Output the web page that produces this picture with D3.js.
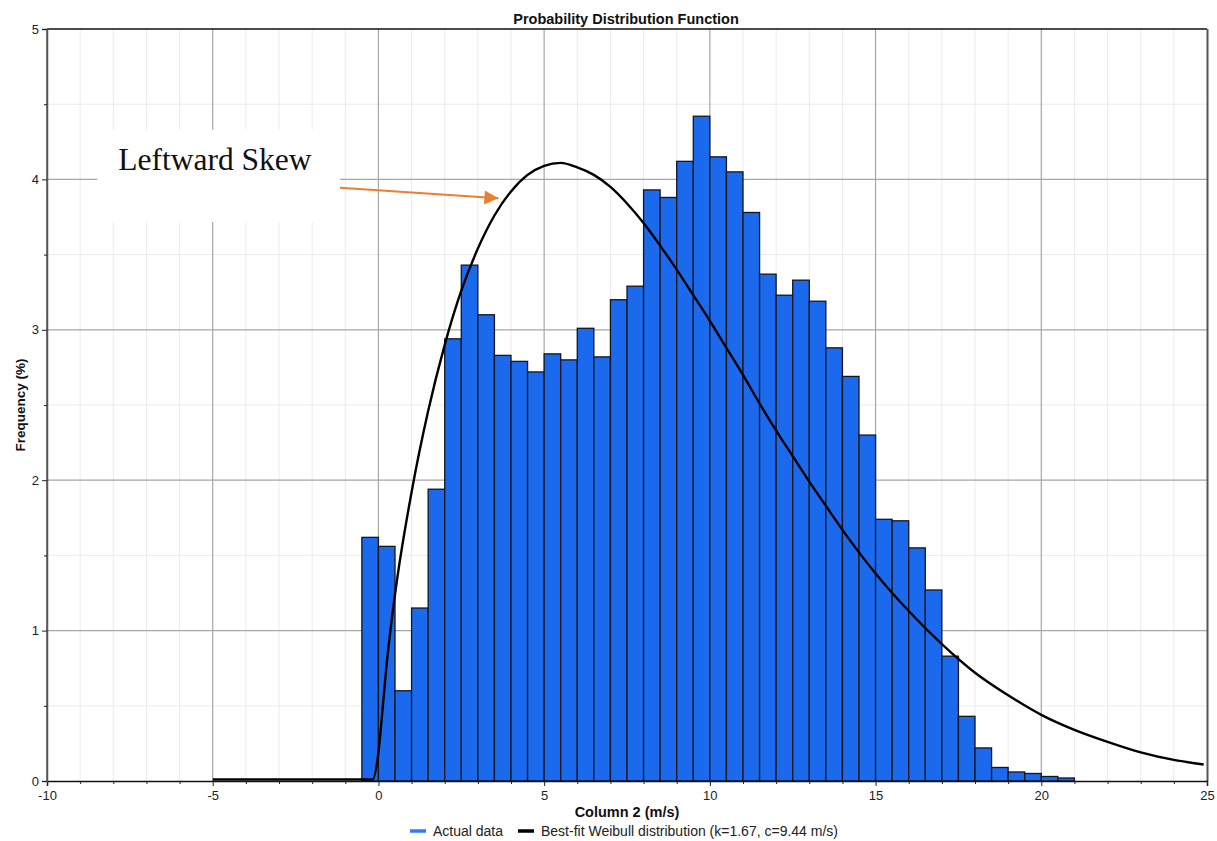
<!DOCTYPE html>
<html>
<head>
<meta charset="utf-8">
<script src="https://cdn.jsdelivr.net/npm/d3@7"></script>
<style>
  html, body { margin: 0; padding: 0; background: #fff; }
  svg { display: block; font-family: "Liberation Sans", Arial, sans-serif; }
</style>
</head>
<body>
<svg id="chart" width="1217" height="841"></svg>
<script>
// Histogram bins (left edge, m/s) and observed frequency (%) per 0.5 m/s bin
const binStarts = [-0.5, 0, 0.5, 1, 1.5, 2, 2.5, 3, 3.5, 4, 4.5, 5, 5.5, 6, 6.5, 7, 7.5, 8, 8.5, 9,
  9.5, 10, 10.5, 11, 11.5, 12, 12.5, 13, 13.5, 14, 14.5, 15, 15.5, 16, 16.5, 17, 17.5, 18, 18.5, 19,
  19.5, 20, 20.5];
const binWidth = 0.5;
const actualFreq = [1.62, 1.56, 0.60, 1.15, 1.94, 2.94, 3.43, 3.10, 2.83, 2.79, 2.72, 2.84, 2.80, 3.01, 2.82,
  3.20, 3.29, 3.93, 3.88, 4.12, 4.42, 4.15, 4.05, 3.78, 3.37, 3.23, 3.33, 3.19, 2.88, 2.69,
  2.30, 1.74, 1.73, 1.55, 1.27, 0.83, 0.43, 0.22, 0.09, 0.06, 0.05, 0.03, 0.02];

// Best-fit Weibull curve, sampled points (speed m/s, frequency %)
const fitSpeed = [-5, -0.17, 0, 0.15, 0.25, 0.5, 1, 1.5, 2, 2.5, 3, 3.5, 4, 4.5, 5, 5.5, 6, 6.5, 7, 7.5,
  8, 8.5, 9, 9.5, 10, 10.5, 11, 11.5, 12, 12.5, 13, 13.5, 14, 14.5, 15, 16, 17, 18, 19, 20,
  21, 22, 23, 24, 24.9];
const fitFreq = [0.01, 0.01, 0.19, 0.54, 0.78, 1.24, 1.92, 2.46, 2.90, 3.26, 3.54, 3.76, 3.92, 4.03, 4.09, 4.11, 4.08, 4.03, 3.95, 3.84,
  3.71, 3.56, 3.40, 3.23, 3.06, 2.88, 2.70, 2.51, 2.33, 2.16, 1.99, 1.83, 1.67, 1.52, 1.38, 1.13, 0.91, 0.72, 0.57, 0.44,
  0.34, 0.26, 0.19, 0.14, 0.11];

const xMajorTicks = [-10, -5, 0, 5, 10, 15, 20, 25];
const yMajorTicks = [0, 1, 2, 3, 4, 5];

const titleText = "Probability Distribution Function";
const xLabel = "Column 2 (m/s)";
const yLabel = "Frequency (%)";
const legendLabels = ["Actual data", "Best-fit Weibull distribution (k=1.67, c=9.44 m/s)"];
const noteText = "Leftward Skew";

const svg = d3.select("#chart");
const margin = { left: 47, top: 29, right: 1207, bottom: 781 };

const x = d3.scaleLinear().domain([-10, 25]).range([margin.left, margin.right]);
const y = d3.scaleLinear().domain([0, 5]).range([margin.bottom, margin.top]);

const barFill = "#1b6aee";
const orange = "#ed7d31";

// Gridlines: minor first, then major
const grid = svg.append("g");
grid.selectAll("line.xminor").data(d3.range(-10, 25.001, 1).filter(v => v % 5 !== 0))
  .join("line")
  .attr("x1", d => x(d)).attr("x2", d => x(d))
  .attr("y1", y(5)).attr("y2", y(0))
  .attr("stroke", "#ebebeb").attr("stroke-width", 1);
grid.selectAll("line.yminor").data(d3.range(0.5, 5, 1))
  .join("line")
  .attr("x1", x(-10)).attr("x2", x(25))
  .attr("y1", d => y(d)).attr("y2", d => y(d))
  .attr("stroke", "#ebebeb").attr("stroke-width", 1);
grid.selectAll("line.xmajor").data(xMajorTicks.slice(1, -1))
  .join("line")
  .attr("x1", d => x(d)).attr("x2", d => x(d))
  .attr("y1", y(5)).attr("y2", y(0))
  .attr("stroke", "#a6a6a6").attr("stroke-width", 1.2);
grid.selectAll("line.ymajor").data(yMajorTicks.slice(1, -1))
  .join("line")
  .attr("x1", x(-10)).attr("x2", x(25))
  .attr("y1", d => y(d)).attr("y2", d => y(d))
  .attr("stroke", "#a6a6a6").attr("stroke-width", 1.2);

// White panel behind the annotation text
svg.append("rect")
  .attr("x", x(-8.48)).attr("y", y(4.33))
  .attr("width", x(-1.16) - x(-8.48)).attr("height", y(3.717) - y(4.33))
  .attr("fill", "#fff");

// Histogram bars
const bars = binStarts.map((s, i) => ({ s, v: actualFreq[i] }));
svg.append("g").selectAll("rect").data(bars).join("rect")
  .attr("x", d => x(d.s))
  .attr("y", d => y(d.v))
  .attr("width", d => x(d.s + binWidth) - x(d.s))
  .attr("height", d => y(0) - y(d.v))
  .attr("fill", barFill)
  .attr("stroke", "#14161c")
  .attr("stroke-width", 1.3);

// Weibull fit curve
const fitPts = fitSpeed.map((s, i) => [s, fitFreq[i]]);
svg.append("path")
  .datum(fitPts)
  .attr("d", d3.line().x(d => x(d[0])).y(d => y(d[1])).curve(d3.curveMonotoneX))
  .attr("fill", "none")
  .attr("stroke", "#000")
  .attr("stroke-width", 2.4)
  .attr("stroke-linejoin", "round");

// Frame
const frame = svg.append("g");
frame.append("line").attr("x1", x(-10)).attr("x2", x(25)).attr("y1", y(5)).attr("y2", y(5))
  .attr("stroke", "#111").attr("stroke-width", 1.5);
frame.append("line").attr("x1", x(-10)).attr("x2", x(-10)).attr("y1", y(5)).attr("y2", y(0))
  .attr("stroke", "#555").attr("stroke-width", 1.5);
frame.append("line").attr("x1", x(25) + 0.5).attr("x2", x(25) + 0.5).attr("y1", y(5)).attr("y2", y(0))
  .attr("stroke", "#555").attr("stroke-width", 2);

// X axis
const xAxis = svg.append("g").attr("transform", `translate(0,${y(0)})`)
  .call(d3.axisBottom(x).tickValues(xMajorTicks).tickSize(5).tickPadding(5).tickFormat(d => String(d)));
xAxis.select(".domain").attr("stroke", "#111").attr("stroke-width", 1.5);
xAxis.selectAll(".tick line").attr("stroke", "#222");
xAxis.selectAll(".tick text").attr("font-size", 13).attr("fill", "#222")
  .attr("font-family", "'Liberation Sans', Arial, sans-serif");
svg.append("g").attr("transform", `translate(0,${y(0)})`)
  .call(d3.axisBottom(x).tickValues(d3.range(-10, 25.001, 1).filter(v => v % 5 !== 0)).tickSize(3).tickFormat(""))
  .call(g => g.select(".domain").remove())
  .selectAll(".tick line").attr("stroke", "#222");

// Y axis
const yAxis = svg.append("g").attr("transform", `translate(${x(-10)},0)`)
  .call(d3.axisLeft(y).tickValues(yMajorTicks).tickSize(5).tickPadding(3).tickFormat(d => String(d)));
yAxis.select(".domain").attr("stroke", "#555").attr("stroke-width", 1.5);
yAxis.selectAll(".tick line").attr("stroke", "#222");
yAxis.selectAll(".tick text").attr("font-size", 13).attr("fill", "#222")
  .attr("font-family", "'Liberation Sans', Arial, sans-serif");
svg.append("g").attr("transform", `translate(${x(-10)},0)`)
  .call(d3.axisLeft(y).tickValues(d3.range(0.5, 5, 1)).tickSize(3).tickFormat(""))
  .call(g => g.select(".domain").remove())
  .selectAll(".tick line").attr("stroke", "#222");

// Titles
svg.append("text").attr("x", 626).attr("y", 24).attr("text-anchor", "middle")
  .attr("font-size", 14.5).attr("font-weight", "bold").attr("fill", "#111").text(titleText);
svg.append("text").attr("x", (x(-10) + x(25)) / 2).attr("y", 817).attr("text-anchor", "middle")
  .attr("font-size", 14.5).attr("font-weight", "bold").attr("fill", "#111").text(xLabel);
svg.append("text")
  .attr("transform", `translate(25,${(y(0) + y(5)) / 2}) rotate(-90)`)
  .attr("text-anchor", "middle")
  .attr("font-size", 13.5).attr("font-weight", "bold").attr("fill", "#111").text(yLabel);

// Legend
const legend = svg.append("g");
const legendItems = [
  { label: legendLabels[0], color: "#2f7bf0", x0: 410 },
  { label: legendLabels[1], color: "#000", x0: 518 }
];
legendItems.forEach(it => {
  legend.append("line").attr("x1", it.x0).attr("x2", it.x0 + 16)
    .attr("y1", 831).attr("y2", 831).attr("stroke", it.color).attr("stroke-width", 3.5);
  legend.append("text").attr("x", it.x0 + 23).attr("y", 836)
    .attr("font-size", 14).attr("fill", "#222").text(it.label);
});

// Annotation: text and orange arrow
svg.append("text").attr("x", x(-7.85)).attr("y", y(4.06))
  .attr("font-family", "'Liberation Serif', 'Times New Roman', serif")
  .attr("font-size", 31.5).attr("fill", "#111").text(noteText);

svg.append("defs").append("marker")
  .attr("id", "arrowHead").attr("viewBox", "0 0 10 10")
  .attr("refX", 10).attr("refY", 5)
  .attr("markerWidth", 8.5).attr("markerHeight", 7)
  .attr("markerUnits", "strokeWidth")
  .attr("orient", "auto")
  .append("path").attr("d", "M0,0 L10,5 L0,10 Z").attr("fill", orange);

svg.append("line")
  .attr("x1", x(-1.16)).attr("y1", y(3.945))
  .attr("x2", x(3.62)).attr("y2", y(3.874))
  .attr("stroke", orange).attr("stroke-width", 2)
  .attr("marker-end", "url(#arrowHead)");
</script>
</body>
</html>
